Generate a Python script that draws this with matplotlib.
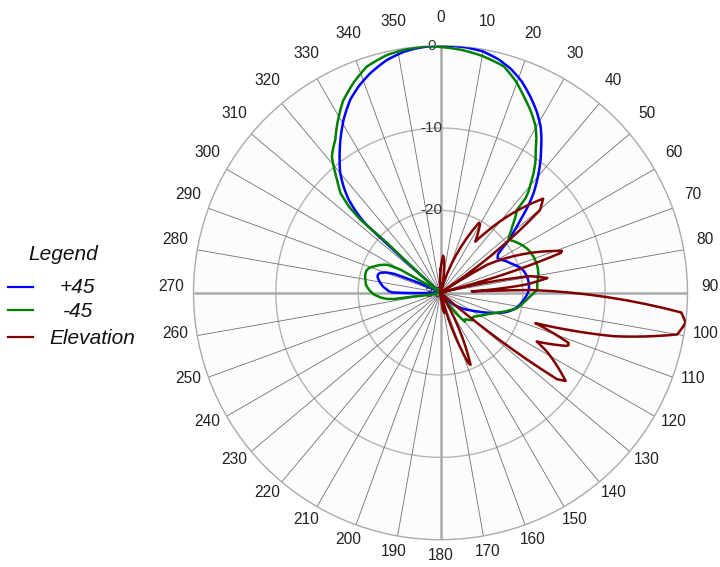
import numpy as np
import matplotlib
matplotlib.use("Agg")
import matplotlib.pyplot as plt
from matplotlib.lines import Line2D

plt.rcParams['font.family'] = ['Liberation Sans', 'DejaVu Sans']

# ---------------- data (angle in degrees, level in dB) ----------------
plus45_angles = [0, 3, 6, 10, 14, 17.4, 21, 24.6, 28, 31, 33, 35, 37.5, 39.5, 41.5, 43, 45, 47.6,
                 50, 52, 54, 56.2, 58.8, 61.2, 64, 67, 70, 72.8, 76, 79.4, 84, 88, 91.5, 94.8,
                 99, 103, 106.5, 109.7, 113, 117, 121, 125, 128.5, 132, 136, 140,
                 268, 269, 269.5, 270.4, 271.8, 273.2, 276, 279.2, 282, 284.4, 286.5, 288.2, 290.3,
                 292.1, 293, 294, 295, 297.5, 300,
                 311.5, 312, 312.3, 312.5, 312.8, 313.8, 315.4, 317.5, 320.1, 323.5, 326.8, 331,
                 335, 338.5, 342.3, 347, 351.4, 354, 357, 360]
plus45_db = [-0.05, 0, -0.05, -0.25, -0.8, -1.5, -2.5, -3.8, -5.1, -6.4, -7.5, -8.7, -10.1, -11.3,
             -12.5, -13.4, -14.8, -16.8, -18.3, -19.3, -20.6, -21.6, -21.9, -21.7, -21.2, -20.8,
             -20.3, -19.8, -19.5, -19.3, -19.2, -19.25, -19.5, -19.85, -20.3, -20.9, -21.7, -22.7,
             -23.8, -25, -25.9, -26.6, -27.2, -27.8, -29, -30,
             -30, -27.6, -26, -24.1, -23.7, -23.5, -23, -22.6, -22.3, -22.1, -22.1, -22.3, -22.9,
             -23.9, -25.7, -26.9, -28, -29.2, -30,
             -30, -26, -22, -18, -17.2, -15.8, -14.1, -12.6, -11.0, -9.4, -7.8, -5.8,
             -4.1, -3.0, -2.0, -1.0, -0.4, -0.2, -0.05, -0.05]

minus45_angles = [0, 5, 10, 15.6, 19.5, 23, 26.5, 29.7, 31.8, 33.6, 36, 37.9, 39.7, 41, 42, 42.7,
                  45, 47.2, 49.3, 51.3, 53, 55, 57.5, 60, 63, 66.2, 70, 74.8, 79.5, 84.3,
                  88.2, 92.3, 96.5, 101.3, 106, 110.9, 114.5, 118, 121.5, 125.4, 128.5, 131,
                  133.6, 136, 138, 140, 142, 144.5, 147, 150,
                  258, 262, 262.3, 263.5, 265.5, 268.5, 272.4, 276, 279.8, 283, 286.3, 289, 291.5,
                  294.5, 297.7, 299.9, 300.5, 303,
                  311, 312.5, 313, 312.6, 312.4, 313.2, 314.9, 317.5, 319.8, 321.3, 323.5, 325.5,
                  328.7, 333, 337.5, 342, 347.4, 352, 356.9, 360]
minus45_db = [-0.15, -0.4, -0.8, -1.45, -2.7, -4.1, -5.4, -6.7, -7.9, -9.1, -10.4, -11.6, -12.9,
              -13.7, -14.6, -16.3, -17.2, -18.1, -18.8, -19.4, -19.4, -19.1, -18.8, -18.5, -18.2,
              -18, -17.85, -17.8, -17.9, -18.2,
              -18.25, -19.1, -19.8, -20.5, -21.8, -23.1, -23.7, -24.2, -24.6, -25, -25.1, -24.9,
              -25.2, -25.5, -25.6, -25.4, -26.4, -27.5, -29, -30,
              -30, -26.7, -24.3, -23.4, -22.7, -21.9, -21.3, -20.9, -20.75, -20.6, -20.6, -20.8,
              -21.3, -21.9, -22.7, -24.4, -27, -30,
              -30, -25, -21.1, -19, -16.85, -14.8, -12.85, -11.4, -9.9, -8.9, -8.1, -7.45,
              -5.9, -3.9, -2.4, -1.1, -0.4, -0.15, 0, -0.15]

elev_angles = [0, 2, 4, 6, 9, 12, 16, 18, 20.1, 22, 24.1, 26, 27.5, 28.8, 30, 31.5, 33, 34.3, 35.5,
               37, 38.5, 40.5, 43, 45, 46.2, 47.5, 48.7, 49.5, 50.3, 51, 51.8, 52.5, 54, 57, 58,
               59, 60.8, 62.7, 64.5, 66, 67.8, 69, 70.2, 71, 71.7, 72.3, 72.8, 73.2, 74.2,
               75.5, 76.5, 78, 79.5, 80.5, 81.3, 82.2, 82.9, 83.5, 84.5, 86, 87.6, 88.0, 88.3, 88.5,
               88.9, 89.9, 91.5, 92.7, 93.7, 94.7, 95.6, 96.4, 97, 97.9, 99.1, 100, 100.9, 101.8,
               102.6, 103.4, 104.1, 105.1, 106.1, 107.8, 108.7, 109.5, 110.5, 111.4, 112.3, 112.9,
               113.6, 114.5, 115.6, 116.9, 117.8, 119, 120.3, 121.5, 122.7, 123.7, 124.5, 125.2,
               125.9, 126.6, 127.3, 128, 128.6, 129.4, 130, 131, 148, 150.2, 152.5, 154.1, 155.5,
               156.6, 157.4, 158.4, 159.2, 159.7, 160.5, 162, 166, 169, 172, 175, 355, 358, 360]
elev_db = [-27.2, -25.9, -25.5, -25.9, -27.2, -30, -30, -28, -25.3, -23.5, -22, -21, -20.5, -20.3,
           -20.4, -21.2, -22.1, -22.5, -22.1, -20.8, -19.4, -17.2, -15, -13.8, -13.3, -13.1, -13.2,
           -13.5, -14.3, -15.8, -18, -21.5, -30, -30, -26,
           -23.4, -21, -19.1, -17.6, -16.5, -15.4, -14.9, -14.5, -14.4, -14.6, -15.3, -16.5, -18.5,
           -23, -30, -27, -22, -19, -17.8, -17.2, -16.9, -17.1, -17.7, -19.5, -23, -26.2, -24, -19,
           -10.5, -6.9, -4.9, -2.9, -1.9, -1.2, -0.65, -0.3, -0.1, 0, -0.05, -0.3, -0.8, -1.6, -2.8,
           -4.3, -6.3, -8.3, -12.4, -15.3, -17.9, -16.8, -15.5, -14.1, -13.3, -13.2, -13.4,
           -13.9, -14.8, -15.9, -16.9, -16.6, -15.2, -13.9, -12.8, -12, -11.6, -11.4, -11.4,
           -11.7, -12.4, -13.8, -15.6, -17.6, -21.5, -26, -30, -30, -25.5, -22.5, -21.2, -20.7,
           -20.5, -20.5, -20.8, -21.6, -22.6, -25.9, -30, -30, -27.5, -28, -30, -30, -28.5, -27.2]

series_names = ['+45', '-45', 'Elevation']
series_colors = ['#0000ff', '#008000', '#800000']
ring_levels = [-30, -20, -10, 0]
ring_labels = ['-30', '-20', '-10', '0']
angle_ticks = list(range(0, 360, 10))

# ---------------- figure / axes ----------------
W, H = 720, 567
fig = plt.figure(figsize=(W / 100, H / 100), dpi=100)
cx, cy, R = 440.5, 292.7, 247.0
ax = fig.add_axes([(cx - R) / W, (H - cy - R) / H, 2 * R / W, 2 * R / H], projection='polar')
ax.set_theta_zero_location('N')
ax.set_theta_direction(-1)
ax.set_ylim(-30, 0)
ax.set_facecolor('#fcfcfc')
ax.grid(False)
ax.set_xticks([])
ax.set_yticks([])
ax.spines['polar'].set_color('#aaaaaa')
ax.spines['polar'].set_linewidth(1.0)

tt = np.linspace(0, 2 * np.pi, 721)
for lv in ring_levels[1:-1]:
    ax.plot(tt, np.full_like(tt, lv), color='#b4b4b4', lw=1.0, zorder=1)
for a in angle_ticks:
    th = np.deg2rad(a)
    major = (a % 90 == 0)
    ax.plot([th, th], [-30, 0], color='#aaaaaa' if major else '#707070',
            lw=1.8 if major else 0.6, zorder=1, solid_capstyle='butt')

# radial labels
for lv, lab in zip(ring_levels, ring_labels):
    y = 0.5 + (lv + 30) / 30 * 0.5
    ax.text(0.5 - 9 / (2 * R), y, lab, transform=ax.transAxes, ha='center', va='center',
            fontsize=11, color='#333333', zorder=2, clip_on=False)

# angle labels
LR, YOFF = 269.0, 6.0
for a in angle_ticks:
    th = np.deg2rad(a)
    x = 0.5 + LR * np.sin(th) / (2 * R)
    y = 0.5 + (LR * np.cos(th) + YOFF) / (2 * R)
    ax.text(x, y, str(a), transform=ax.transAxes, ha='center', va='center',
            fontsize=11.2, color='#222222', clip_on=False)

# data lines
all_angles = [plus45_angles, minus45_angles, elev_angles]
all_db = [plus45_db, minus45_db, elev_db]
for angs, dbs, col in zip(all_angles, all_db, series_colors):
    th = np.deg2rad(np.asarray(angs, dtype=float))
    r = np.clip(np.asarray(dbs, dtype=float), -30, 0)
    ln, = ax.plot(th, r, color=col, lw=1.8, zorder=3, solid_joinstyle='round')
    ln.get_path()._interpolation_steps = 8

# legend (manual)
def fx(px):
    return px / W

def fy(py):
    return 1 - py / H

fig.text(fx(28), fy(259.5), 'Legend', fontsize=15, style='italic', color='#111111',
         ha='left', va='baseline')
leg_line_y = [287.3, 310.0, 337.3]
leg_text_x = [60, 63, 49]
leg_text_base = [293.3, 317.3, 344.5]
for name, col, ly, tx, tb in zip(series_names, series_colors, leg_line_y, leg_text_x, leg_text_base):
    fig.add_artist(Line2D([fx(8.3), fx(33.3)], [fy(ly), fy(ly)], color=col, lw=1.6,
                          transform=fig.transFigure))
    fig.text(fx(tx), fy(tb), name, fontsize=15, style='italic', color='#111111',
             ha='left', va='baseline')

fig.savefig('out.png', dpi=100, facecolor='white')
